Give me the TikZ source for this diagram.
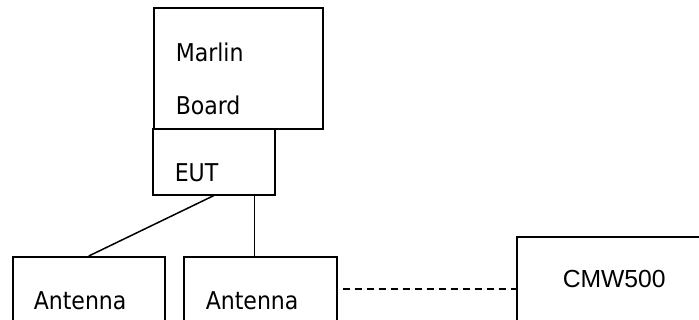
\documentclass[tikz,border=0pt]{standalone}
\usepackage{fontspec}
\usetikzlibrary{positioning}
\newfontfamily\labelfont{DejaVu Sans Condensed}
\newfontfamily\cmwfont{Liberation Sans}

\begin{document}
\begin{tikzpicture}[
    x = 1pt, y = 1pt,
    box/.style = {draw = black, line width = 1.6pt, rectangle,
                  anchor = north west, inner sep = 0pt}, % plain boxes
    lbl/.style = {font = \labelfont\fontsize{24.5}{53}\selectfont,
                  anchor = base west, inner sep = 0pt, align = left},
    line width = 1.5pt
    ]

    \clip (0,0) rectangle (699,-320);

    \node[box, minimum width = 169pt, minimum height = 121pt] (marlin) at (153,-7) {};
    \node[box, minimum width = 122pt, minimum height = 66pt] (eut) at (152,-128) {};
    \node[box, minimum width = 152pt, minimum height = 100pt] (ant1) at (12,-256) {};
    \node[box, minimum width = 153pt, minimum height = 100pt] (ant2) at (183,-256) {};
    \node[box, minimum width = 220pt, minimum height = 104pt] (cmw) at (516,-236) {};

    % texts
    \node[lbl] (marlintxt) at (175,-115) {Marlin\\Board};
    \node[lbl] (euttxt) at (174,-182) {EUT};
    \node[lbl] (ant1txt) at (33,-310) {Antenna};
    \node[lbl] (ant2txt) at (205,-310) {Antenna};
    \node[lbl, font = \cmwfont\fontsize{24.7}{30}\selectfont] (cmwtxt) at (562,-288) {CMW500};

    % links
    \draw (eut.south) -- (ant1.north);
    \draw ([xshift=-21pt]eut.south east) -- ([xshift=-21pt]eut.south east |- ant2.north);
    \draw[dashed, dash pattern = on 7pt off 5pt, shorten < = 5pt]
        (ant2.east |- cmw.west) -- (cmw.west);
\end{tikzpicture}
\end{document}
